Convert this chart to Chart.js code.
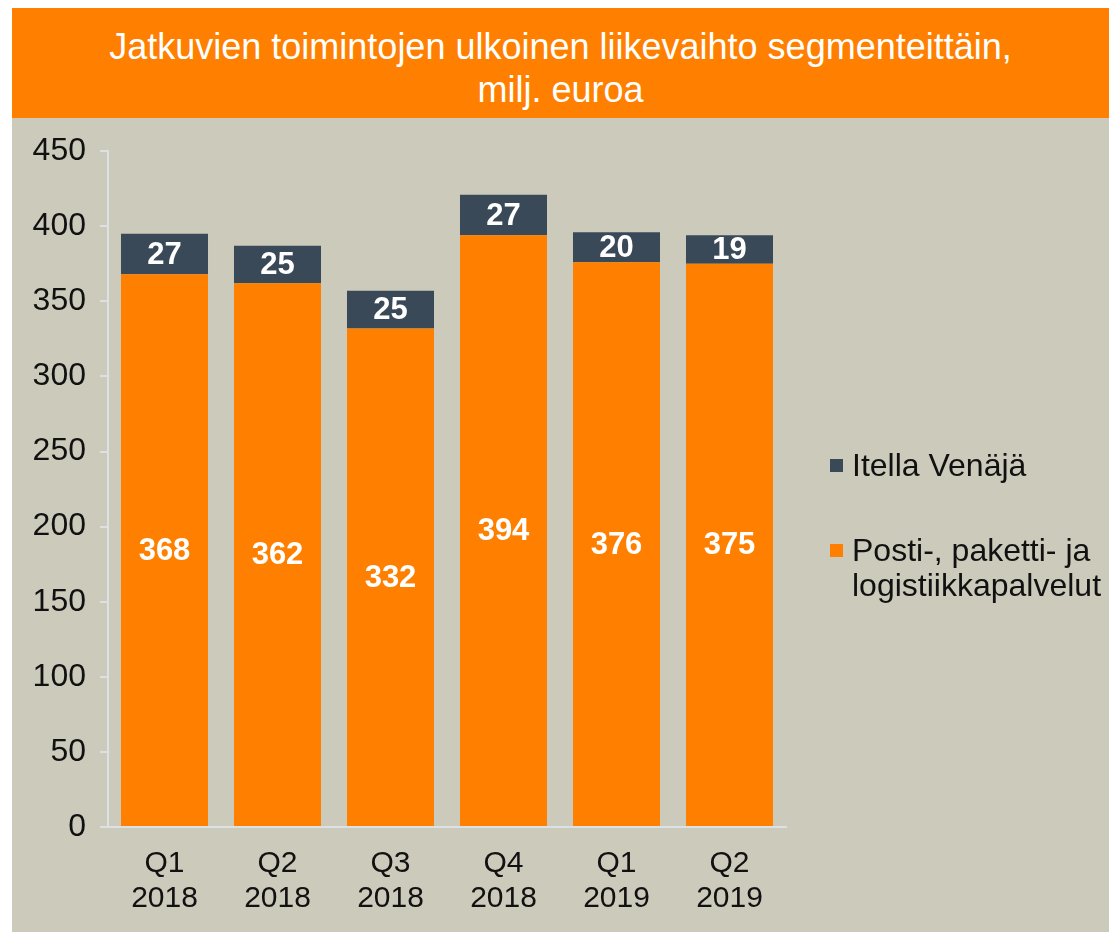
<!DOCTYPE html>
<html>
<head>
<meta charset="utf-8">
<script src="https://cdn.jsdelivr.net/npm/chart.js@4/dist/chart.umd.min.js"></script>
<style>
  body { margin: 0; background: #fff; font-family: "Liberation Sans", Arial, sans-serif; }
  #frame { position: absolute; left: 12px; top: 8px; width: 1097px; height: 924px; background: #cccabb; }
  #title { height: 110px; background: #ff8000; color: #fff; font-size: 36px; line-height: 43px;
           text-align: center; padding-top: 17px; box-sizing: border-box; white-space: nowrap; }
  #wrap { position: absolute; left: 0; top: 110px; width: 1097px; height: 814px; }
  #legend { position: absolute; left: 818px; top: 440px; font-size: 32px; color: #111; line-height: 35px; white-space: nowrap; }
  .item { position: relative; padding-left: 22px; margin-bottom: 50px; }
  .box { position: absolute; left: 0; top: 11px; width: 13px; height: 13px; }
</style>
</head>
<body>
<div id="frame">
  <div id="title">Jatkuvien toimintojen ulkoinen liikevaihto segmenteittäin,<br>milj. euroa</div>
  <div id="wrap"><canvas id="chart" width="1097" height="814"></canvas></div>
  <div id="legend"></div>
</div>
<script>
const categories = [["Q1", "2018"], ["Q2", "2018"], ["Q3", "2018"], ["Q4", "2018"], ["Q1", "2019"], ["Q2", "2019"]];
const postiValues = [368, 362, 332, 394, 376, 375];
const itellaValues = [27, 25, 25, 27, 20, 19];
const seriesNames = ["Posti-, paketti- ja logistiikkapalvelut", "Itella Venäjä"];
const seriesColors = ["#ff8000", "#3a4958"];

// legend in reverse order, like the original
const legend = document.getElementById('legend');
[1, 0].forEach(i => {
    const d = document.createElement('div');
    d.className = 'item';
    d.innerHTML = '<span class="box" style="background:' + seriesColors[i] + '"></span>' +
        seriesNames[i].replace(' ja ', ' ja<br>');
    legend.appendChild(d);
});

const barLabels = {
    id: 'barLabels',
    afterDatasetsDraw(chart) {
        const ctx = chart.ctx;
        ctx.save();
        ctx.font = 'bold 31px "Liberation Sans", Arial, sans-serif';
        ctx.fillStyle = '#fff';
        ctx.textAlign = 'center';
        ctx.textBaseline = 'middle';
        chart.data.datasets.forEach((ds, di) => {
            chart.getDatasetMeta(di).data.forEach((bar, i) => {
                ctx.fillText(ds.data[i], bar.x, (bar.y + bar.base) / 2 + 1);
            });
        });
        ctx.restore();
    }
};

new Chart(document.getElementById('chart'), {
    type: 'bar',
    data: {
        labels: categories,
        datasets: [
            { label: seriesNames[0], data: postiValues, backgroundColor: seriesColors[0] },
            { label: seriesNames[1], data: itellaValues, backgroundColor: seriesColors[1] }
        ]
    },
    options: {
        responsive: false,
        animation: false,
        layout: { padding: { top: 29, right: 323, left: 0, bottom: 0 } },
        plugins: { legend: { display: false }, tooltip: { enabled: false } },
        datasets: { bar: { categoryPercentage: 1, barPercentage: 0.77 } },
        scales: {
            x: {
                stacked: true,
                grid: { display: false },
                border: { color: '#dde1e6', width: 2 },
                ticks: { color: '#111', font: { size: 30, family: '"Liberation Sans", Arial', lineHeight: 1.17 }, padding: 11, maxRotation: 0 },
                afterFit(scale) { scale.height = 105; }
            },
            y: {
                stacked: true,
                min: 0, max: 450,
                ticks: { stepSize: 50, color: '#111', font: { size: 32, family: '"Liberation Sans", Arial' }, padding: 14 },
                grid: { drawOnChartArea: false, drawTicks: true, tickLength: 8, color: '#dde1e6', lineWidth: 2 },
                border: { color: '#dde1e6', width: 2 },
                afterFit(scale) { scale.width = 96; }
            }
        }
    },
    plugins: [barLabels]
});
</script>
</body>
</html>
